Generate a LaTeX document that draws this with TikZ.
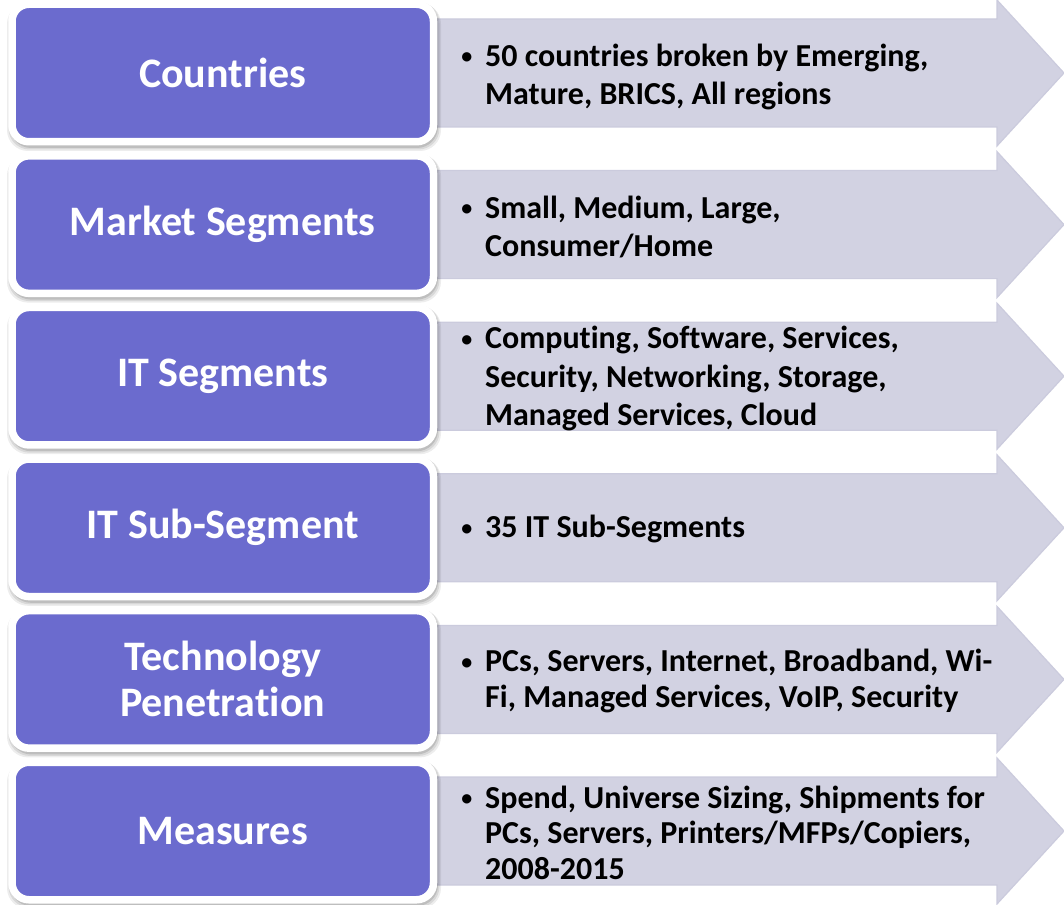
\documentclass[tikz,border=0pt]{standalone}
\usepackage{fontspec}
\setmainfont{Carlito}[Ligatures={NoCommon,NoRare,NoContextual}, RawFeature={-liga;-clig;-dlig;-calt}]
\definecolor{boxpurple}{RGB}{107,107,206}
\definecolor{arrowfill}{RGB}{210,210,226}
\definecolor{arrowedge}{RGB}{203,203,221}
\newcommand{\bul}{\llap{\raisebox{2.5pt}{\fontsize{22}{22}\selectfont\textbullet}\hspace{13pt}}}
\begin{document}
\begin{tikzpicture}[x=1pt,y=-1pt,
  catbox/.style={rectangle, rounded corners=17pt, fill=boxpurple, draw=white,
    line width=7.5pt, minimum width=421.5pt, minimum height=137.5pt,
    inner sep=0pt, text=white, align=center,
    font=\bfseries\fontsize{42}{46}\selectfont},
  desc/.style={anchor=west, inner sep=0pt, align=left, text=black},
  descA/.style={desc, font=\bfseries\fontsize{32}{38.5}\selectfont},
  descB/.style={desc, font=\bfseries\fontsize{32}{35.5}\selectfont},
  arrowshape/.style={fill=arrowfill, draw=arrowedge, line width=1.2pt, line join=miter},
  shadowlayer/.style={fill=black, opacity=#1, rounded corners=21pt}
]
\useasboundingbox (0,0) rectangle (1064,904);

% arrows
\foreach \c in {73,224.6,376.2,527.8,679.4,831}{
  \draw[arrowshape] (430,\c-54) -- (997,\c-54) -- (997,\c-73) -- (1064,\c)
    -- (997,\c+73) -- (997,\c+54) -- (430,\c+54) -- cycle;
}
% soft shadows under the category boxes
\foreach \c in {73,224.6,376.2,527.8,679.4,831}{
  \fill[shadowlayer=0.07] (7,\c-70) rectangle (441,\c+78);
  \fill[shadowlayer=0.09] (8.5,\c-71) rectangle (439.5,\c+76.5);
  \fill[shadowlayer=0.12] (10,\c-71) rectangle (438,\c+75);
}

% category boxes
\node[catbox] (b1) at (222.75,73)    {Countries};
\node[catbox] (b2) at (222.75,224.6) {Market Segments};
\node[catbox] (b3) at (222.75,376.2) {IT Segments};
\node[catbox] (b4) at (222.75,527.8) {IT Sub-Segment};
\node[catbox] (b5) at (222.75,679.4) {Technology\\Penetration};
\node[catbox] (b6) at (222.75,831)   {Measures};

% descriptions
\node[descA] (t1) at (485,77) {\bul 50 countries broken by Emerging,\\Mature, BRICS, All regions};
\node[descA] (t2) at (485,227) {\bul Small, Medium, Large,\\Consumer/Home};
\node[descA] (t3) at (485,378.5) {\bul Computing, Software, Services,\\Security, Networking, Storage,\\Managed Services, Cloud};
\node[descA] (t4) at (485,529) {\bul 35 IT Sub-Segments};
\node[descB] (t5) at (485,681) {\bul PCs, Servers, Internet, Broadband, Wi-\\Fi, Managed Services, VoIP, Security};
\node[descB] (t6) at (485,832.5) {\bul Spend, Universe Sizing, Shipments for\\PCs, Servers, Printers/MFPs/Copiers,\\2008-2015};
\end{tikzpicture}
\end{document}
